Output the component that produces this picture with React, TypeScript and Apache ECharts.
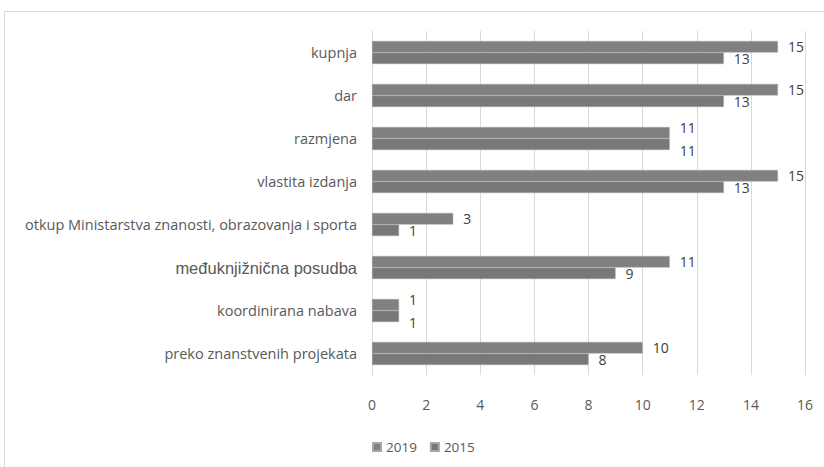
import React, { useEffect, useRef } from "react";
import * as echarts from "echarts";

const categories = [
  "kupnja",
  "dar",
  "razmjena",
  "vlastita izdanja",
  "otkup Ministarstva znanosti, obrazovanja i sporta",
  "međuknjižnična posudba",
  "koordinirana nabava",
  "preko znanstvenih projekata",
];
const values2019 = [15, 15, 11, 15, 3, 11, 1, 10];
const values2015 = [13, 13, 11, 13, 1, 9, 1, 8];
const xTicks = [0, 2, 4, 6, 8, 10, 12, 14, 16];

const FONT = "'Open Sans', sans-serif";

export default function App() {
  const ref = useRef<HTMLDivElement>(null);
  useEffect(() => {
    if (!ref.current) return;
    const chart = echarts.init(ref.current, null, { renderer: "svg" });
    const close = (i: number) => Math.abs(values2019[i] - values2015[i]) <= 1;
    const mk = (vals: number[], dy: number, color: string) =>
      vals.map((v, i) => ({
        value: v,
        label: { offset: [0, close(i) ? dy : 0] },
        itemStyle: { color },
      }));
    chart.setOption({
      animation: false,
      backgroundColor: "#ffffff",
      graphic: [
        {
          type: "rect",
          shape: { x: 4.5, y: 11.5, width: 840, height: 480 },
          style: { fill: "none", stroke: "#d9d9d9", lineWidth: 1 },
          silent: true,
        },
      ],
      grid: { left: 372, right: 19, top: 31, bottom: 92, containLabel: false },
      legend: {
        left: 372,
        top: 440,
        padding: 0,
        itemWidth: 8,
        itemHeight: 8,
        itemGap: 13,
        icon: "rect",
        textStyle: { color: "#595959", fontSize: 13.5, fontFamily: FONT },
        data: ["2019", "2015"],
      },
      xAxis: {
        type: "value",
        min: xTicks[0],
        max: xTicks[xTicks.length - 1],
        interval: xTicks[1] - xTicks[0],
        axisLine: { show: false },
        axisTick: { show: false },
        splitLine: { lineStyle: { color: "#d9d9d9", width: 1 } },
        axisLabel: { color: "#595959", fontSize: 14, fontFamily: FONT, margin: 22 },
      },
      yAxis: {
        type: "category",
        inverse: true,
        data: categories,
        axisLine: { show: true, lineStyle: { color: "#d9d9d9", width: 1 } },
        axisTick: { show: false },
        axisLabel: {
          color: "#595959",
          fontSize: 14.5,
          fontFamily: FONT,
          margin: 15,
          formatter: (v: string) => (v === "međuknjižnična posudba" ? "{b|" + v + "}" : v),
          rich: { b: { fontFamily: "'Liberation Sans', Arial, sans-serif", fontSize: 16.5, color: "#595959" } },
        },
      },
      series: [
        {
          name: "2019",
          type: "bar",
          data: mk(values2019, -5, "#808080"),
          itemStyle: { color: "#808080", borderColor: "#a6a6a6", borderWidth: 0.5 },
          barWidth: 11.5,
          barGap: "0%",
          label: {
            show: true,
            position: "right",
            distance: 10,
            color: "#404040",
            fontSize: 14,
            fontFamily: FONT,
          },
        },
        {
          name: "2015",
          type: "bar",
          data: mk(values2015, 6, "#787878"),
          itemStyle: { color: "#787878", borderColor: "#a6a6a6", borderWidth: 0.5 },
          barWidth: 11.5,
          barGap: "0%",
          label: {
            show: true,
            position: "right",
            distance: 10,
            color: "#404040",
            fontSize: 14,
            fontFamily: FONT,
          },
        },
      ],
    });
    return () => chart.dispose();
  }, []);
  return (
    <div
      ref={ref}
      style={{ position: "fixed", left: 0, top: 0, width: 824, height: 467 }}
    />
  );
}
